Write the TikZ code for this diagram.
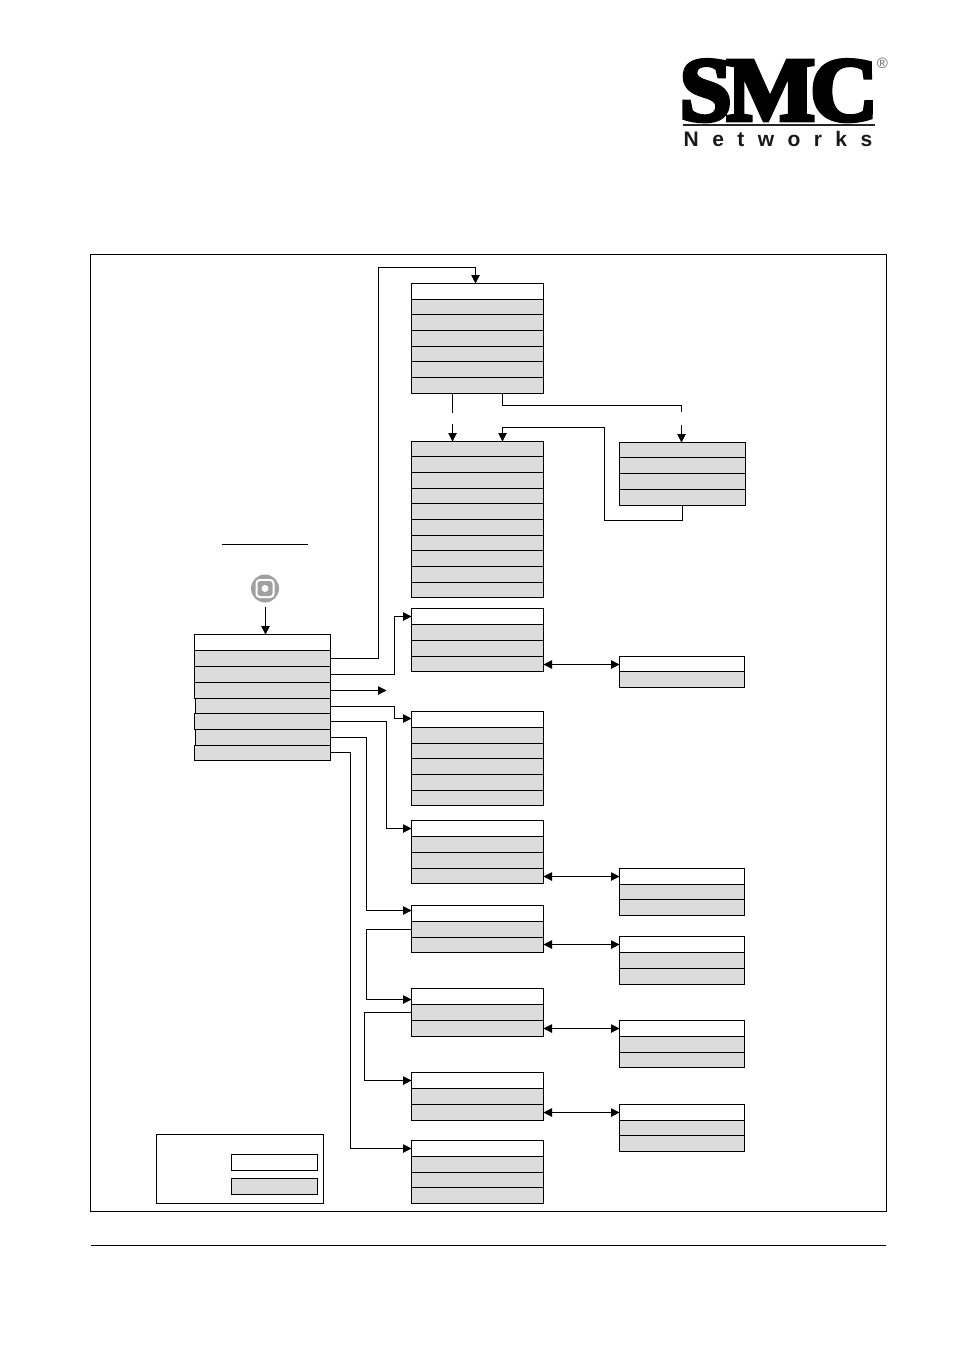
\documentclass[tikz,border=0pt]{standalone}
\usepackage{fontspec}
\usepackage{graphicx}
\usetikzlibrary{arrows.meta,calc}
\newfontfamily\logoserif[FakeBold=5]{Liberation Serif}
\newfontfamily\logosans[LetterSpace=64]{Liberation Sans}
\newfontfamily\logoreg{Liberation Sans}
\definecolor{rowgrey}{HTML}{DCDCDC}
\definecolor{icongrey}{HTML}{A0A0A0}
\tikzset{
  x=1pt,y=-1pt,
  line/.style={draw=black,line width=1pt},
  link/.style={line,line cap=butt},
  arrowlink/.style={link,-{Triangle[length=8.5pt,width=8.5pt]}},
  bothlink/.style={link,{Triangle[length=8.5pt,width=8.5pt]}-{Triangle[length=8.5pt,width=8.5pt]}},
  boxrow/.style={line,rectangle,anchor=north west,inner sep=0pt,outer sep=0pt},
  whiterow/.style={boxrow,fill=white},
  greyrow/.style={boxrow,fill=rowgrey},
}
% \rowbox{name}{style}{x0}{y0}{x1}{y1}
\newcommand{\rowbox}[6]{\node[#2,minimum width={#5-#3},minimum height={#6-#4}] (#1) at (#3,#4) {};}
% \stackrows{prefix}{x0}{x1}{first style}{y0,y1,...}: rows are named prefix1, prefix2, ...
\newcommand{\stackrows}[5]{%
  \foreach \ya/\yb [count=\n] in {#5}{%
    \ifnum\n=1 \rowbox{#1\n}{#4}{#2}{\ya}{#3}{\yb}\else \rowbox{#1\n}{greyrow}{#2}{\ya}{#3}{\yb}\fi
  }%
}
\begin{document}
\begin{tikzpicture}
\useasboundingbox (0,0) rectangle (954,1351);
\fill[white] (0,0) rectangle (954,1351);

% logo
\node[inner sep=0pt,anchor=north west] (logoword) at (679.5,60)
  {\resizebox{198pt}{60pt}{\logoserif\bfseries S\kern-.05em M\kern-.05em C}};
\coordinate (rulel) at (682.5,125);
\coordinate (ruler) at (875,125);
\draw[black!85,line width=2pt] (rulel) -- (ruler);
\node[inner sep=0pt,anchor=base west,text=black!90] (logosub) at (683.5,147)
  {\fontsize{21}{21}\logosans\bfseries Networks};
\node[inner sep=0pt,text=black!60] (logoreg) at (882.5,63.5) {\fontsize{15}{15}\logoreg ®};

% frame, footer
\coordinate (framea) at (90.5,254.5);
\coordinate (frameb) at (886.5,1211.5);
\draw[line] (framea) rectangle (frameb);
\coordinate (footl) at (91,1245.5);
\coordinate (footr) at (886,1245.5);
\draw[line] (footl) -- (footr);

% underline and icon
\coordinate (ula) at (222,544.5);
\coordinate (ulb) at (307.5,544.5);
\draw[line] (ula) -- (ulb);
\fill[icongrey] (265,588.5) circle (14);
\fill[white,rounded corners=4pt] (255.5,579) rectangle (274.5,598);
\fill[icongrey,rounded corners=3pt] (257.5,581) rectangle (272.5,596);
\fill[white] (265,588.5) circle (3.5);
\coordinate (iconout) at (265.5,607);

% main stack
\rowbox{m1}{whiterow}{194.5}{634.5}{330.5}{650.5}
\rowbox{m2}{greyrow}{194.5}{650.5}{330.5}{666.5}
\rowbox{m3}{greyrow}{194.5}{666.5}{330.5}{682.5}
\rowbox{m4}{greyrow}{194.5}{682.5}{330.5}{698.5}
\rowbox{m5}{greyrow}{195.5}{698.5}{330.5}{713.5}
\rowbox{m6}{greyrow}{194.5}{713.5}{330.5}{729.5}
\rowbox{m7}{greyrow}{195.5}{729.5}{330.5}{745.5}
\rowbox{m8}{greyrow}{194.5}{745.5}{330.5}{760.5}

% centre column
\stackrows{a}{411.5}{543.5}{whiterow}{283.5/299.5,299.5/314.5,314.5/330.5,330.5/346.5,346.5/361.5,361.5/377.5,377.5/393.5}
\stackrows{b}{411.5}{543.5}{greyrow}{441.5/456.5,456.5/472.5,472.5/488.5,488.5/503.5,503.5/519.5,519.5/535.5,535.5/550.5,550.5/566.5,566.5/582.5,582.5/597.5}
\stackrows{d}{411.5}{543.5}{whiterow}{608.5/624.5,624.5/640.5,640.5/656.5,656.5/671.5}
\stackrows{e}{411.5}{543.5}{whiterow}{711.5/727.5,727.5/743.5,743.5/758.5,758.5/774.5,774.5/790.5,790.5/805.5}
\stackrows{f}{411.5}{543.5}{whiterow}{820.5/836.5,836.5/852.5,852.5/868.5,868.5/883.5}
\stackrows{g}{411.5}{543.5}{whiterow}{905.5/921.5,921.5/937.5,937.5/952.5}
\stackrows{h}{411.5}{543.5}{whiterow}{988.5/1004.5,1004.5/1020.5,1020.5/1036.5}
\stackrows{i}{411.5}{543.5}{whiterow}{1072.5/1088.5,1088.5/1104.5,1104.5/1120.5}
\stackrows{j}{411.5}{543.5}{whiterow}{1140.5/1156.5,1156.5/1172.5,1172.5/1187.5,1187.5/1203.5}

% right column
\stackrows{c}{619.5}{745.5}{greyrow}{442.5/457.5,457.5/473.5,473.5/489.5,489.5/505.5}
\stackrows{k}{619.5}{744.5}{whiterow}{656.5/671.5,671.5/687.5}
\stackrows{l}{619.5}{744.5}{whiterow}{868.5/884.5,884.5/899.5,899.5/915.5}
\stackrows{q}{619.5}{744.5}{whiterow}{936.5/952.5,952.5/968.5,968.5/984.5}
\stackrows{n}{619.5}{744.5}{whiterow}{1020.5/1036.5,1036.5/1052.5,1052.5/1067.5}
\stackrows{o}{619.5}{744.5}{whiterow}{1104.5/1120.5,1120.5/1135.5,1135.5/1151.5}

% legend
\rowbox{legend}{whiterow}{156.5}{1134.5}{323.5}{1203.5}
\rowbox{legwhite}{whiterow}{231.5}{1154.5}{317.5}{1170.5}
\rowbox{leggrey}{greyrow}{231.5}{1178.5}{317.5}{1194.5}

% connectors: main stack
\draw[arrowlink] (iconout) -- (iconout |- m1.north);
\coordinate (w2a) at (378.5,658.5);
\coordinate (w2b) at (475.5,267.5);
\draw[arrowlink] (m2.east) -- (w2a) |- (w2b) -- (w2b |- a1.north);
\coordinate (w3) at (394.5,616.5);
\draw[arrowlink] (m3.east) -| (w3) -- (w3 -| d1.west);
\coordinate (m4end) at (386.5,690.5);
\draw[arrowlink] (m4.east |- m4end) -- (m4end);
\coordinate (w5) at (394.5,718.5);
\draw[arrowlink] (330.5,706.5) -| (w5) -- (w5 -| e1.west);
\coordinate (w6) at (386.5,828.5);
\draw[arrowlink] (m6.east) -| (w6) -- (w6 -| f1.west);
\coordinate (w7) at (366.5,910.5);
\draw[arrowlink] (m7.east) -| (w7) -- (w7 -| g1.west);
\coordinate (w8) at (350.5,1148.5);
\draw[arrowlink] (m8.east |- 0,752.5) -| (w8) -- (w8 -| j1.west);

% connectors: top group
\coordinate (gapa1) at (452.5,412.5);
\coordinate (gapa2) at (452.5,424);
\draw[link] (gapa1 |- a7.south) -- (gapa1);
\draw[arrowlink] (gapa2) -- (gapa2 |- b1.north);
\coordinate (gapc1) at (681.5,411.5);
\coordinate (gapc2) at (681.5,425);
\coordinate (gapc0) at (502.5,405.5);
\draw[link] (gapc0 |- a7.south) -- (gapc0) -| (gapc1);
\draw[arrowlink] (gapc2) -- (gapc2 |- c1.north);
\coordinate (back1) at (682.5,520.5);
\coordinate (back2) at (604.5,427.5);
\coordinate (back3) at (502.5,427.5);
\draw[arrowlink] (back1 |- c4.south) -- (back1) -| (back2) -- (back3) -- (back3 |- b1.north);

% connectors: chained stacks
\coordinate (w9) at (366.5,999.5);
\draw[arrowlink] (g2.west) -| (w9) -- (w9 -| h1.west);
\coordinate (w10) at (364.5,1080.5);
\draw[arrowlink] (h2.west) -| (w10) -- (w10 -| i1.west);

% connectors: two-way links
\coordinate (y1) at (0,664.5);
\coordinate (y2) at (0,876.5);
\coordinate (y3) at (0,944.5);
\coordinate (y4) at (0,1028.5);
\coordinate (y5) at (0,1112.5);
\draw[bothlink] (d4.east |- y1) -- (k1.west |- y1);
\draw[bothlink] (f4.east |- y2) -- (l1.west |- y2);
\draw[bothlink] (g3.east |- y3) -- (q1.west |- y3);
\draw[bothlink] (h3.east |- y4) -- (n1.west |- y4);
\draw[bothlink] (i3.east |- y5) -- (o1.west |- y5);
\end{tikzpicture}
\end{document}
